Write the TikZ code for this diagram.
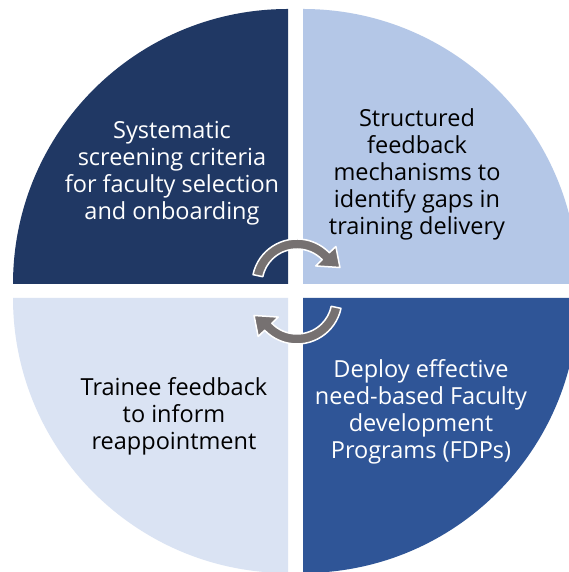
\documentclass[tikz,border=0pt]{standalone}
\usepackage{fontspec}
\setmainfont{Open Sans}
\usetikzlibrary{calc}
\definecolor{navy}{HTML}{203864}
\definecolor{paleblue}{HTML}{B4C7E7}
\definecolor{mistblue}{HTML}{DAE3F3}
\definecolor{royal}{HTML}{2F5597}
\definecolor{arrowgray}{HTML}{767171}
\begin{document}
\begin{tikzpicture}[x=1pt,y=1pt,
  qtext/.style={align=center, inner sep=0pt, font=\fontsize{23.5}{27}\selectfont},
  cyc/.style={fill=arrowgray, draw=white, line width=1.5pt, line join=round}]
\useasboundingbox (0,0) rectangle (569,572);
\fill[white] (0,0) rectangle (569,572);

% four quarter discs, separated by white gaps
\begin{scope}
  \clip (0,0) rectangle (569,572);
  \fill[navy] (288,288) -- (13,288) arc[start angle=180, end angle=90, radius=275] -- cycle;
  \fill[paleblue] (303,288) -- (303,563) arc[start angle=90, end angle=0, radius=275] -- cycle;
  \fill[mistblue] (288,274) -- (13,274) arc[start angle=180, end angle=270, radius=275] -- cycle;
  \fill[royal] (303,274) -- (578,274) arc[start angle=0, end angle=-90, radius=275] -- cycle;
\end{scope}

% quadrant texts
\node[qtext, text=white] (screening) at (172,399)
  {Systematic\\screening criteria\\for faculty selection\\and onboarding};
\node[qtext, text=black] (feedback) at (417,398)
  {Structured\\feedback\\mechanisms to\\identify gaps in\\training delivery};
\node[qtext, text=black] (trainee) at (174,156)
  {Trainee feedback\\to inform\\reappointment};
\node[qtext, text=white] (fdp) at (421,160)
  {Deploy effective\\need-based Faculty\\development\\Programs (FDPs)};

% circular arrows in the middle
\coordinate (c1) at (297,288);
\coordinate (c2) at (297,273);
\filldraw[cyc] ($(c1)+(168:45)$) arc[start angle=168, end angle=44, radius=45]
  -- ($(c1)+(44:54)$) -- ($(c1)+(21:46)$) -- ($(c1)+(44:26)$)
  -- ($(c1)+(44:35)$) arc[start angle=44, end angle=168, radius=35] -- cycle;
\filldraw[cyc] ($(c2)+(-12:45)$) arc[start angle=-12, end angle=-136, radius=45]
  -- ($(c2)+(-136:54)$) -- ($(c2)+(-159:46)$) -- ($(c2)+(-136:26)$)
  -- ($(c2)+(-136:35)$) arc[start angle=-136, end angle=-12, radius=35] -- cycle;
\end{tikzpicture}
\end{document}
